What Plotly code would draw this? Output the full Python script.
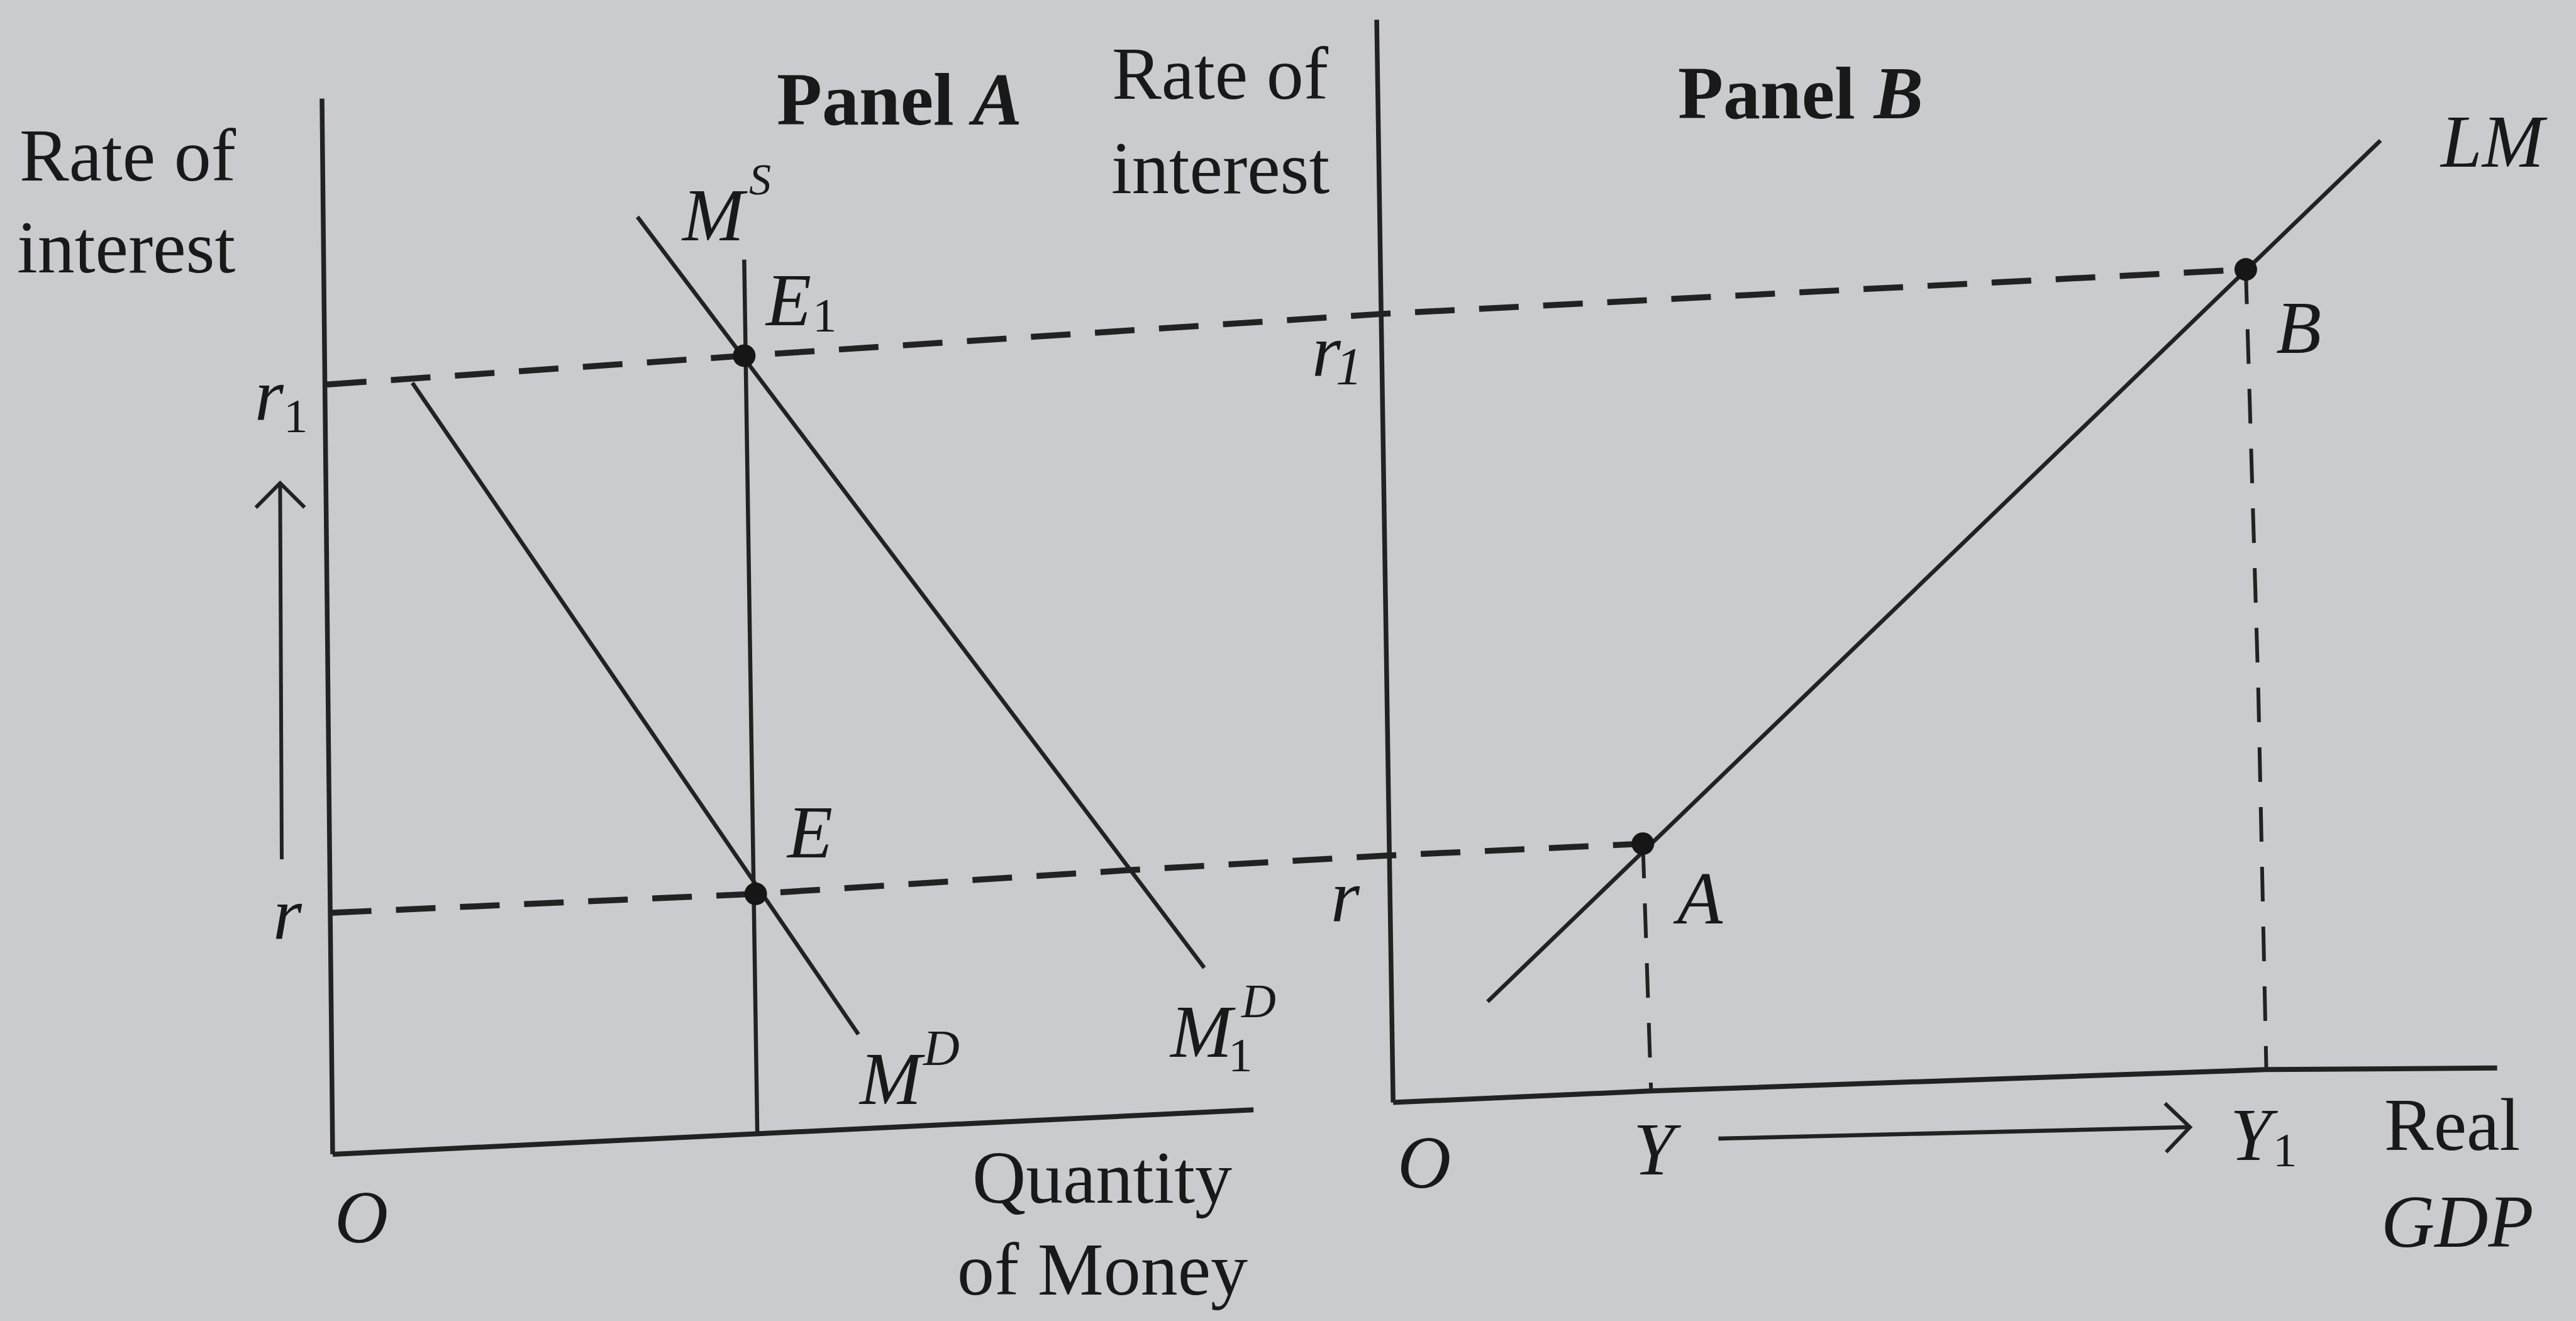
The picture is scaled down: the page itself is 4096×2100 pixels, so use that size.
import math
import plotly.graph_objects as go

# Drawing grid: 1568 x 804 units, x to the right, y downward.
GRID_W, GRID_H = 1568, 804

# ---------------- Panel A: money market ----------------
a_vert_axis_x = [196, 202.5]
a_vert_axis_y = [60, 702.5]
a_horiz_axis_x = [202.5, 763]
a_horiz_axis_y = [702.5, 675.5]

ms_x = [453, 461]            # money supply M^S (vertical)
ms_y = [158, 691.5]
md_x = [251, 522.5]          # money demand M^D
md_y = [233, 629.5]
md1_x = [388, 733]           # shifted money demand M1^D
md1_y = [132, 589]

eq_a_x = [453, 460]          # E1, E
eq_a_y = [216.5, 544]

rise_arrow_x = [171.5, 170.5]
rise_arrow_y = [523, 294]

# ---------------- Panel B: LM curve ----------------
b_vert_axis_x = [838, 848]
b_vert_axis_y = [12, 671]
b_horiz_axis_x = [848, 1005, 1379.5, 1520]
b_horiz_axis_y = [671, 664, 651, 650]

lm_x = [905.5, 1449]
lm_y = [609.6, 85.5]

eq_b_x = [1000, 1367]        # A, B
eq_b_y = [513.5, 164]

gdp_arrow_x = [1046, 1333]
gdp_arrow_y = [693, 686]

# ---------------- Dashed guides ----------------
r1_guide_x = [199, 453, 842, 1367]
r1_guide_y = [234, 216.5, 191, 164]
r_guide_x = [202, 460, 688.7, 844.6, 1000]
r_guide_y = [555.5, 544, 529.5, 520.7, 513.5]
y_guide_x = [1000, 1005]
y_guide_y = [513.5, 664]
y1_guide_x = [1367, 1374.6, 1379.5]
y1_guide_y = [164, 419, 651]

# ---------------- Text ----------------
# (text, x, y, font size)
labels = [
    ("Rate of", 78, 94.8, 118),
    ("interest", 77, 150.8, 118),
    ("<b>Panel <i>A</i></b>", 547.5, 60.5, 118),
    ("Rate of", 743, 44.8, 118),
    ("interest", 743, 102.4, 118),
    ("<b>Panel <i>B</i></b>", 1096, 56.8, 118),
    ("<i>r</i>", 164, 240.8, 118), ("1", 180, 253, 77),
    ("<i>r</i>", 175, 556.5, 118),
    ("<i>O</i>", 220, 741, 118),
    ("<i>M</i>", 435, 131, 118), ("<i>S</i>", 462.5, 109.2, 70),
    ("<i>E</i>", 479.5, 183, 118), ("1", 502, 192, 77),
    ("<i>E</i>", 492.5, 506.8, 118),
    ("<i>M</i>", 543, 656.8, 118), ("<i>D</i>", 573, 638, 80),
    ("<i>M</i>", 732, 628, 118), ("1", 755, 642, 77), ("<i>D</i>", 766, 609, 76),
    ("Quantity", 671, 716.8, 118),
    ("of Money", 671, 772.7, 118),
    ("<i>r</i>", 807.5, 213.8, 118), ("<i>1</i>", 821, 223, 84),
    ("<i>B</i>", 1399, 199.8, 118),
    ("<i>LM</i>", 1518, 86.4, 118),
    ("<i>r</i>", 819, 545.8, 118),
    ("<i>A</i>", 1033.5, 546.8, 118),
    ("<i>O</i>", 867, 707.8, 118),
    ("<i>Y</i>", 1009, 699.8, 118),
    ("<i>Y</i>", 1372, 691, 118), ("1", 1391, 700, 77),
    ("Real", 1492.5, 684.8, 118),
    ("<i>GDP</i>", 1496, 743.8, 118),
]

INK = "#222222"
TEXT = "#191919"
BG = "#c9cbce"
FONT = "Liberation Serif"


def line(x, y, width, dash="solid"):
    return go.Scatter(x=x, y=y, mode="lines", hoverinfo="skip", showlegend=False,
                      line=dict(color=INK, width=width, dash=dash))


def chevron(xs, ys, size=21):
    # open arrowhead at the last point of a shaft
    dx, dy = xs[-1] - xs[-2], ys[-1] - ys[-2]
    n = math.hypot(dx, dy)
    ux, uy = dx / n, dy / n
    pts = []
    for ang in (math.radians(45), -math.radians(45)):
        bx = -(ux * math.cos(ang) - uy * math.sin(ang))
        by = -(ux * math.sin(ang) + uy * math.cos(ang))
        pts.append((xs[-1] + bx * size, ys[-1] + by * size))
    return ([pts[0][0], xs[-1], pts[1][0]], [pts[0][1], ys[-1], pts[1][1]])


fig = go.Figure()

# axes
fig.add_trace(line(a_vert_axis_x, a_vert_axis_y, 7.5))
fig.add_trace(line(a_horiz_axis_x, a_horiz_axis_y, 8))
fig.add_trace(line(b_vert_axis_x, b_vert_axis_y, 7.5))
fig.add_trace(line(b_horiz_axis_x, b_horiz_axis_y, 8))

# curves
fig.add_trace(line(ms_x, ms_y, 6.5))
fig.add_trace(line(md_x, md_y, 6.5))
fig.add_trace(line(md1_x, md1_y, 6.5))
fig.add_trace(line(lm_x, lm_y, 6.5))

# dashed guides
fig.add_trace(line(r1_guide_x, r1_guide_y, 9.5, "63px,39px"))
fig.add_trace(line(r_guide_x, r_guide_y, 9.5, "63px,39px"))
fig.add_trace(line(y_guide_x, y_guide_y, 6, "55px,40px"))
fig.add_trace(line(y1_guide_x, y1_guide_y, 6, "55px,40px"))

# direction arrows
fig.add_trace(line(rise_arrow_x, rise_arrow_y, 6))
hx, hy = chevron(rise_arrow_x, rise_arrow_y)
fig.add_trace(line(hx, hy, 6))
fig.add_trace(line(gdp_arrow_x, gdp_arrow_y, 6.5))
hx, hy = chevron(gdp_arrow_x, gdp_arrow_y)
fig.add_trace(line(hx, hy, 6))

# equilibrium points
fig.add_trace(go.Scatter(x=eq_a_x + eq_b_x, y=eq_a_y + eq_b_y, mode="markers",
                         hoverinfo="skip", showlegend=False,
                         marker=dict(color="#161616", size=36, line=dict(width=0))))

for text, x, y, size in labels:
    fig.add_annotation(x=x, y=y, text=text, showarrow=False, xanchor="center",
                       yanchor="middle", font=dict(family=FONT, size=size, color=TEXT))

fig.update_layout(
    width=4096, height=2100, autosize=False,
    margin=dict(l=0, r=0, t=0, b=0, pad=0),
    paper_bgcolor=BG, plot_bgcolor=BG,
    xaxis=dict(range=[0, GRID_W], visible=False, fixedrange=True),
    yaxis=dict(range=[GRID_H, 0], visible=False, fixedrange=True),
    showlegend=False,
)

fig.write_html("out.html")
